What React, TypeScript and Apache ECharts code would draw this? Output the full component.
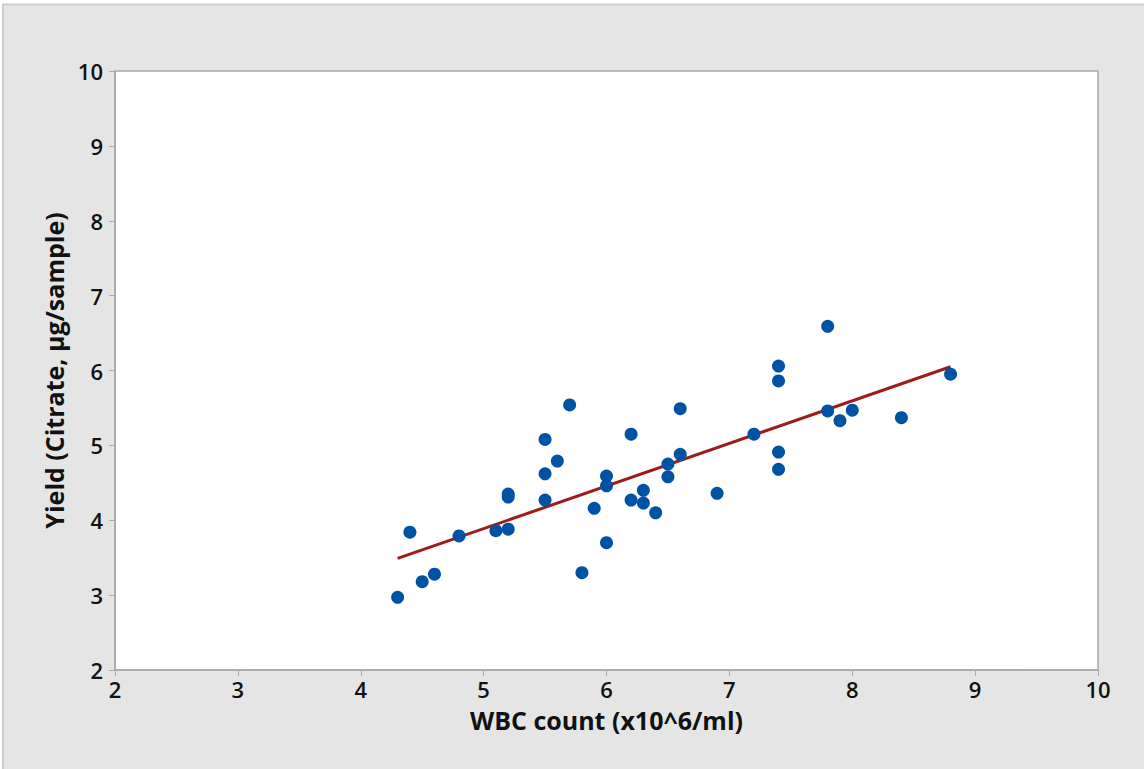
import React, { useEffect, useRef } from "react";
import * as echarts from "echarts";

const wbc = [4.3, 4.4, 4.5, 4.6, 4.8, 5.1, 5.2, 5.2, 5.2, 5.5, 5.5, 5.5, 5.6, 5.7, 5.8, 5.9, 6.0, 6.0, 6.0, 6.2, 6.2, 6.3, 6.3, 6.4, 6.5, 6.5, 6.6, 6.6, 6.9, 7.2, 7.4, 7.4, 7.4, 7.4, 7.8, 7.8, 7.9, 8.0, 8.4, 8.8];
const yieldVals = [2.97, 3.84, 3.18, 3.28, 3.79, 3.86, 3.88, 4.35, 4.31, 4.62, 5.08, 4.27, 4.79, 5.54, 3.30, 4.16, 4.59, 4.46, 3.70, 5.15, 4.27, 4.40, 4.23, 4.10, 4.75, 4.58, 5.49, 4.88, 4.36, 5.15, 6.06, 5.86, 4.91, 4.68, 6.59, 5.46, 5.33, 5.47, 5.37, 5.95];
const fitX = [4.3, 8.8];
const fitY = [3.49, 6.05];

const FONT = "'Open Sans', 'Noto Sans', sans-serif";

export default function App() {
  const ref = useRef<HTMLDivElement>(null);
  useEffect(() => {
    if (!ref.current) return;
    const chart = echarts.init(ref.current, undefined, { renderer: "svg" });
    chart.setOption({
      animation: false,
      backgroundColor: "#ffffff",
      graphic: [
        {
          type: "rect",
          z: -10,
          silent: true,
          shape: { x: 3, y: 4.5, width: 1160, height: 790 },
          style: { fill: "#e5e5e5", stroke: "#cccccc", lineWidth: 2 },
        },
      ],
      grid: {
        left: 115,
        top: 71,
        right: 46,
        bottom: 99,
        show: true,
        backgroundColor: "#ffffff",
        borderColor: "#a8a8a8",
        borderWidth: 1.5,
        z: 0,
      },
      xAxis: {
        type: "value",
        min: 2,
        max: 10,
        interval: 1,
        name: "WBC count (x10^6/ml)",
        nameLocation: "middle",
        nameGap: 37,
        nameTextStyle: { fontFamily: FONT, fontSize: 25, fontWeight: "bold", color: "#111" },
        axisLine: { show: true, lineStyle: { color: "#a8a8a8", width: 1.5 } },
        axisTick: { show: true, length: 6, lineStyle: { color: "#a8a8a8" } },
        axisLabel: { fontFamily: FONT, fontSize: 22, fontWeight: 600, color: "#111", margin: 8 },
        splitLine: { show: false },
      },
      yAxis: {
        type: "value",
        min: 2,
        max: 10,
        interval: 1,
        name: "Yield (Citrate, µg/sample)",
        nameLocation: "middle",
        nameGap: 49,
        nameTextStyle: { fontFamily: FONT, fontSize: 25, fontWeight: "bold", color: "#111" },
        axisLine: { show: true, lineStyle: { color: "#a8a8a8", width: 1.5 } },
        axisTick: { show: true, length: 6, lineStyle: { color: "#a8a8a8" } },
        axisLabel: { fontFamily: FONT, fontSize: 22, fontWeight: 600, color: "#111", margin: 12 },
        splitLine: { show: false },
      },
      series: [
        {
          type: "line",
          data: fitX.map((x, i) => [x, fitY[i]]),
          showSymbol: false,
          symbol: "none",
          lineStyle: { color: "#9e1b1b", width: 3 },
          z: 2,
        },
        {
          type: "scatter",
          data: wbc.map((x, i) => [x, yieldVals[i]]),
          symbolSize: 13,
          itemStyle: { color: "#0052a5", opacity: 1 },
          z: 3,
        },
      ],
    });
    return () => chart.dispose();
  }, []);
  return (
    <div
      ref={ref}
      style={{ position: "absolute", left: 0, top: 0, width: 1144, height: 769 }}
    />
  );
}
